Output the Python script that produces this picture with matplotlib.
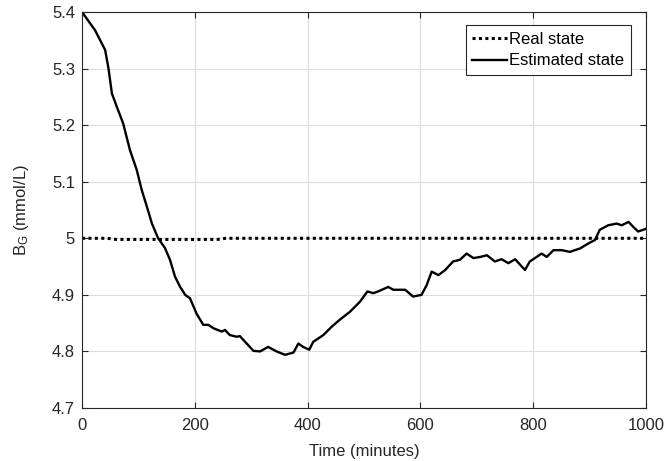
import matplotlib
matplotlib.use("Agg")
import matplotlib.pyplot as plt

plt.rcParams['font.family'] = ['Liberation Sans', 'DejaVu Sans']
plt.rcParams['mathtext.fontset'] = 'custom'
plt.rcParams['mathtext.rm'] = 'Liberation Sans'
plt.rcParams['mathtext.it'] = 'Liberation Sans'

real_t = [0, 45, 60, 240, 255, 1000]
real_v = [5.0, 5.0, 4.998, 4.998, 5.0, 5.0]

est_t = [0, 23, 41, 47, 53, 61.5, 73, 85, 97, 106, 115, 124, 135, 147, 156, 165,
         174, 183, 191.5, 203, 215, 224, 233, 248, 253.5, 262, 274, 280, 292, 304,
         316, 330, 345, 360, 375, 383.6, 392, 403, 410, 428, 443, 457, 475, 493,
         506, 516.5, 525, 543, 552, 573, 587, 602, 611, 620, 632, 644, 658, 670,
         682, 694, 706, 718, 732, 744, 756, 768, 777, 785.5, 794, 815, 824, 836,
         850.5, 865, 883, 898, 909.6, 918, 933, 948, 957, 969, 977.5, 986, 998, 1000]
est_v = [5.4, 5.368, 5.333, 5.30, 5.256, 5.233, 5.203, 5.156, 5.121, 5.085, 5.056,
         5.026, 5.0, 4.983, 4.962, 4.932, 4.914, 4.90, 4.894, 4.867, 4.847, 4.847,
         4.841, 4.835, 4.838, 4.829, 4.826, 4.827, 4.814, 4.801, 4.80, 4.808, 4.80,
         4.794, 4.798, 4.814, 4.808, 4.803, 4.817, 4.829, 4.844, 4.856, 4.870, 4.888,
         4.906, 4.903, 4.906, 4.914, 4.909, 4.909, 4.897, 4.90, 4.917, 4.941, 4.935,
         4.944, 4.959, 4.962, 4.973, 4.965, 4.967, 4.970, 4.959, 4.963, 4.956, 4.963,
         4.953, 4.944, 4.959, 4.973, 4.967, 4.979, 4.979, 4.976, 4.982, 4.991, 4.997,
         5.015, 5.023, 5.026, 5.023, 5.029, 5.020, 5.012, 5.016, 5.017]

x_ticks = [0, 200, 400, 600, 800, 1000]
y_ticks = [4.7, 4.8, 4.9, 5.0, 5.1, 5.2, 5.3, 5.4]
y_tick_labels = ['4.7', '4.8', '4.9', '5', '5.1', '5.2', '5.3', '5.4']

fig = plt.figure(figsize=(6.67, 4.61), dpi=100)
ax = fig.add_axes([82/667, 1 - 408/461, (646-82)/667, (408-12)/461])

ax.plot(real_t, real_v, color='black', lw=2.2, linestyle=(0, (1, 1.1)),
        label='Real state')
ax.plot(est_t, est_v, color='black', lw=1.7, label='Estimated state')

ax.set_xlim(0, 1000)
ax.set_ylim(4.7, 5.4)
ax.set_xticks(x_ticks)
ax.set_yticks(y_ticks)
ax.set_yticklabels(y_tick_labels)
ax.grid(True, color='#dcdcdc', lw=0.8)
ax.set_axisbelow(True)
ax.tick_params(direction='in', top=True, right=True, length=4, width=0.8,
               labelsize=12, colors='#262626')
ax.tick_params(axis='x', pad=7)
ax.tick_params(axis='y', pad=5)
for s in ax.spines.values():
    s.set_color('#262626')
    s.set_linewidth(0.8)

ax.set_xlabel('Time (minutes)', fontsize=12, color='#262626', labelpad=8)
ax.set_ylabel(r'B$_\mathregular{G}$ (mmol/L)', fontsize=12, color='#262626', labelpad=15)

leg = ax.legend(loc='upper right', bbox_to_anchor=(0.973, 0.967), fontsize=12,
                frameon=True, fancybox=False, handlelength=2.1, handletextpad=0.1,
                borderpad=0.4, labelspacing=0.4, borderaxespad=0)
leg.get_frame().set_edgecolor('#262626')
leg.get_frame().set_linewidth(0.8)
leg.get_frame().set_alpha(1)

fig.savefig('out.png', dpi=100)
